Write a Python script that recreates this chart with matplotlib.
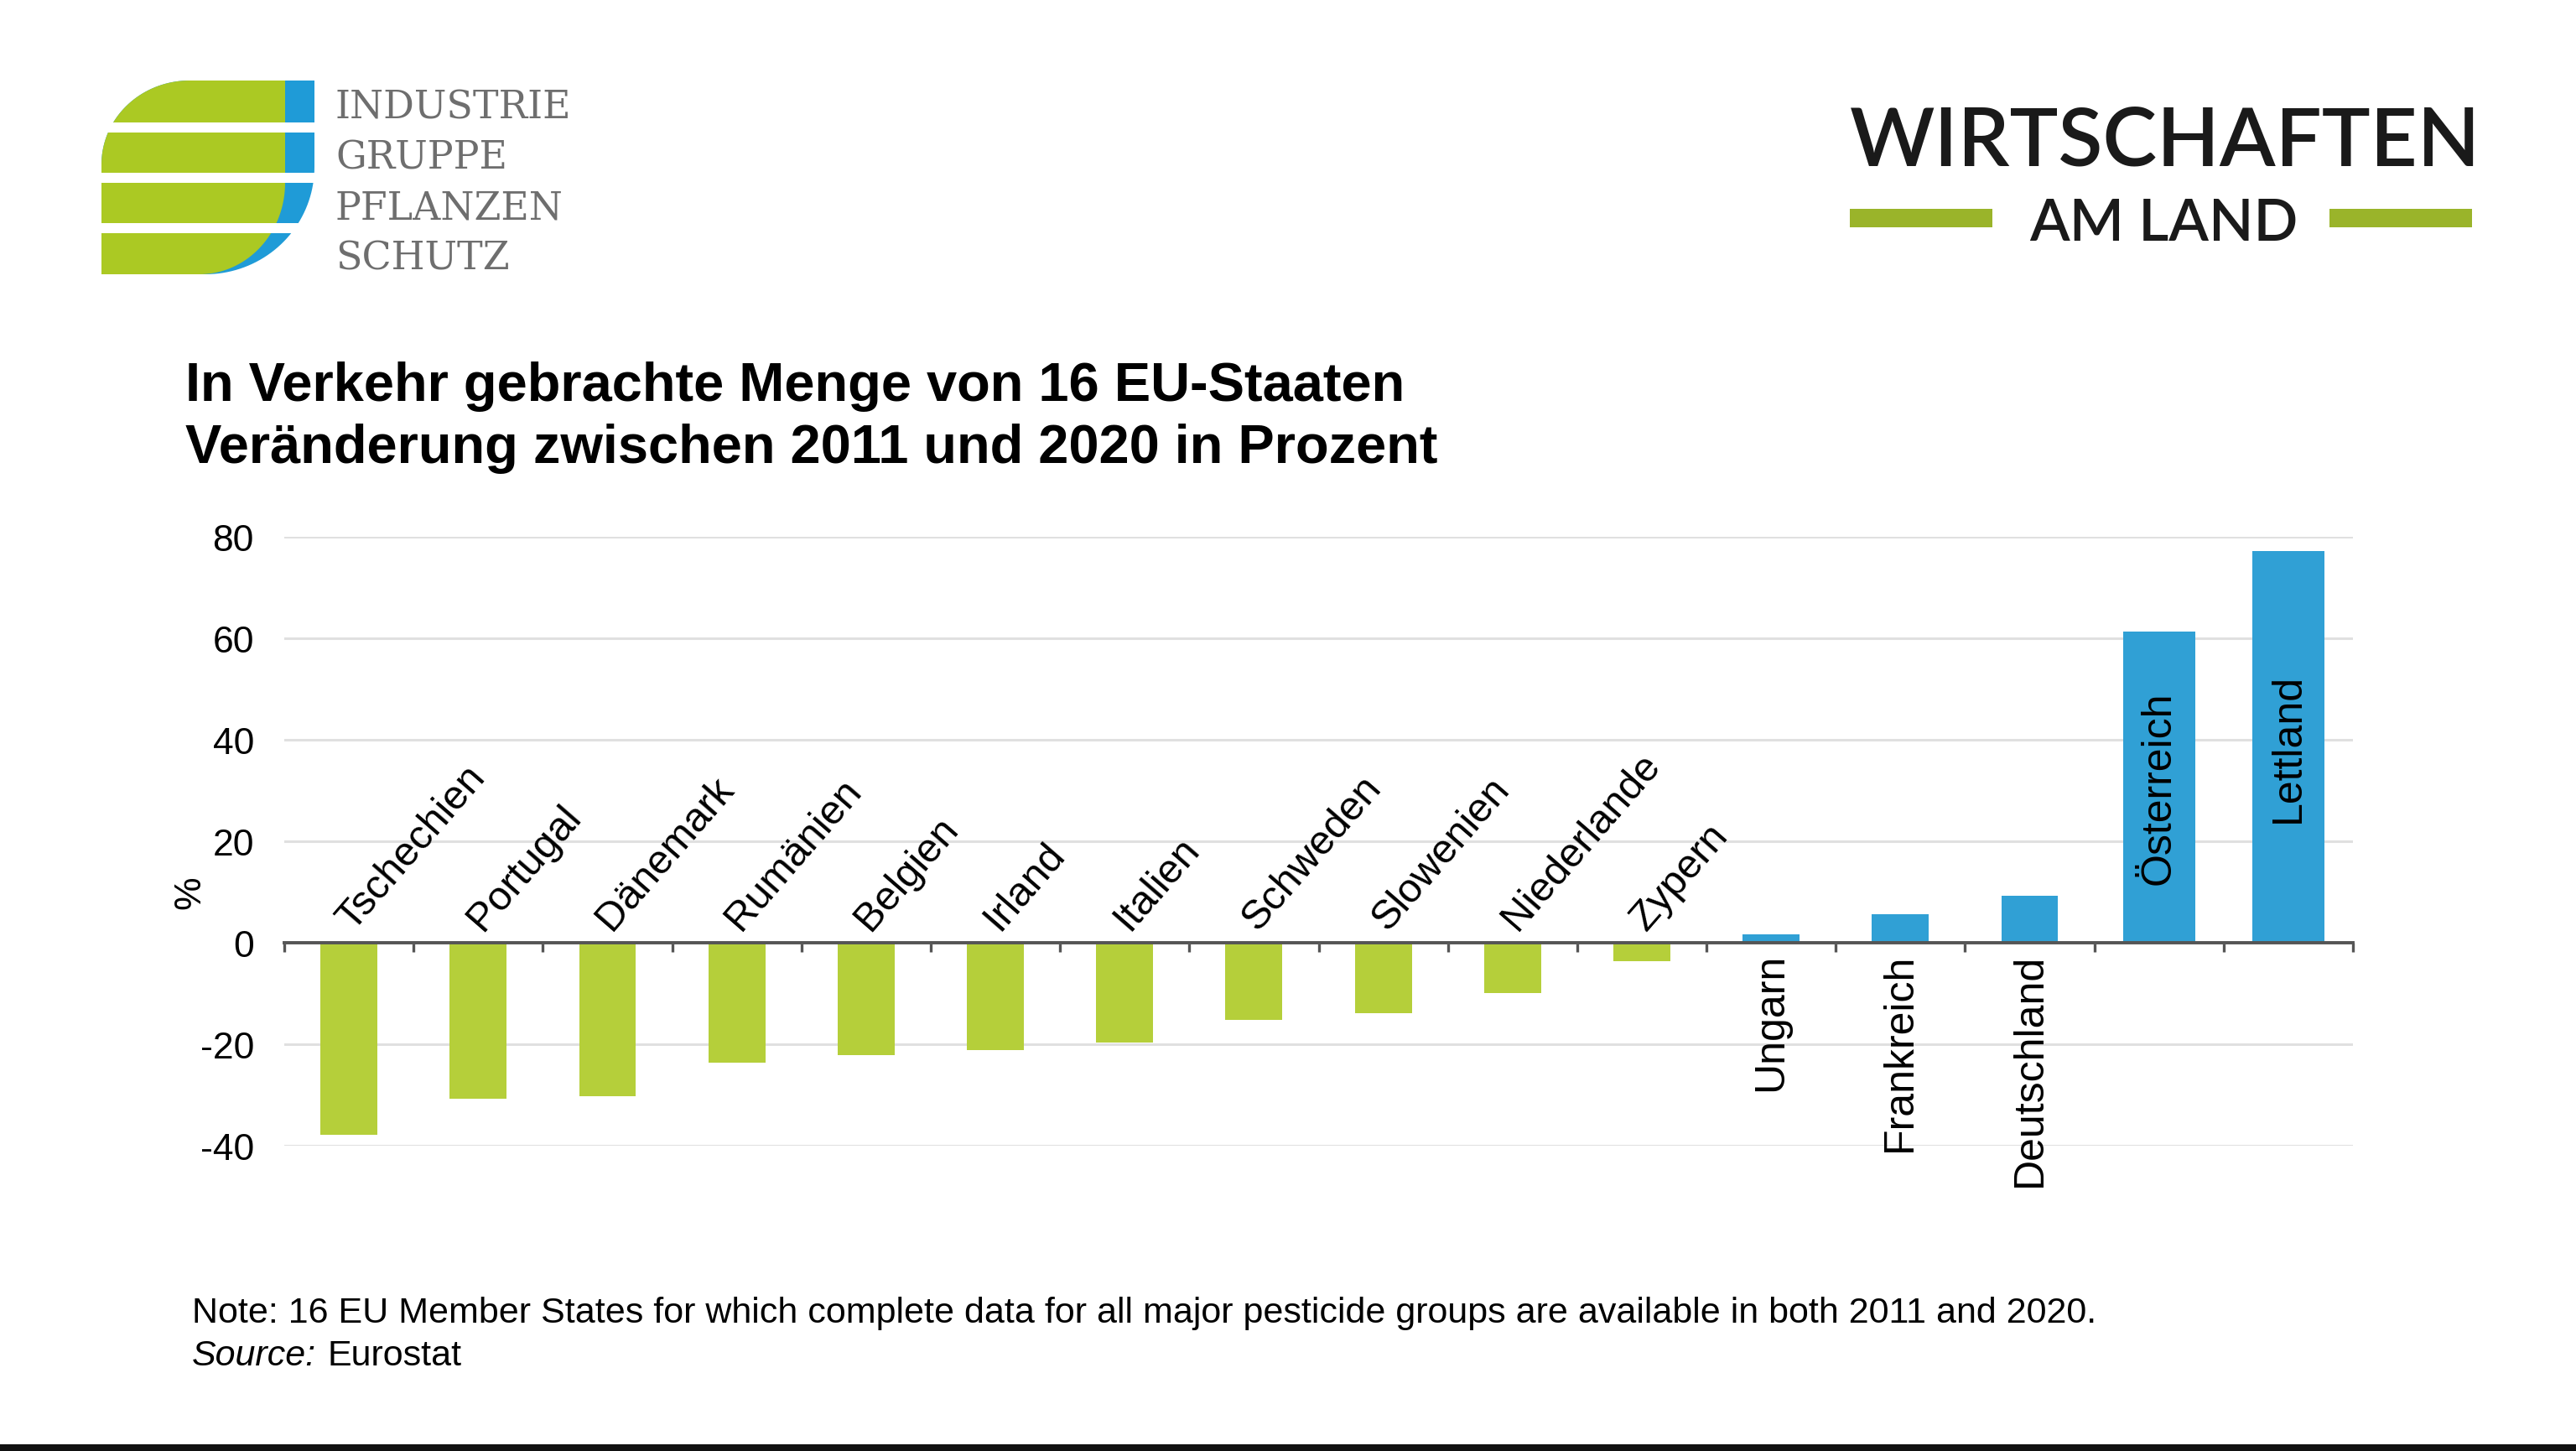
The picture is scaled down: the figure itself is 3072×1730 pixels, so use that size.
import numpy as np
import matplotlib
matplotlib.use("Agg")
import matplotlib.pyplot as plt
from matplotlib.patches import Polygon, Rectangle

plt.rcParams['font.family'] = ['Liberation Sans', 'DejaVu Sans']
plt.rcParams['axes.unicode_minus'] = False

# data: change 2011 -> 2020 in percent
countries = ['Tschechien', 'Portugal', 'Dänemark', 'Rumänien', 'Belgien', 'Irland',
             'Italien', 'Schweden', 'Slowenien', 'Niederlande', 'Zypern',
             'Ungarn', 'Frankreich', 'Deutschland', 'Österreich', 'Lettland']
change = [-37.8, -30.8, -30.2, -23.6, -22.1, -21.2, -19.7, -15.2, -13.9, -9.9, -3.6,
          1.7, 5.6, 9.3, 61.4, 77.2]
yticks = [-40, -20, 0, 20, 40, 60, 80]

GREEN = '#b5cf3a'
BLUE = '#30a0d5'
W, H = 3072, 1731

fig = plt.figure(figsize=(W / 200, H / 200), dpi=200)

# background layer in pixel coordinates (logos, titles, notes)
bg = fig.add_axes([0, 0, 1, 1])
bg.set_xlim(0, W)
bg.set_ylim(H, 0)
bg.axis('off')


def arc(cx, cy, rx, ry, a0, a1, n=40):
    t = np.radians(np.linspace(a0, a1, n))
    return np.column_stack([cx + rx * np.cos(t), cy + ry * np.sin(t)])


# left logo (y grows downward here)
tl = arc(121 + 105, 97 + 100, 105, 100, 180, 270)
outer = np.vstack([tl, [[375, 97], [375, 200]], arc(245, 200, 130, 128, 0, 90), [[121, 328]]])
inner = np.vstack([tl, [[340, 97], [340, 219]], arc(238, 219, 102, 109, 0, 90), [[121, 328]]])
bg.add_patch(Polygon(outer, closed=True, color='#1f9bd7', lw=0))
bg.add_patch(Polygon(inner, closed=True, color='#abc923', lw=0))
for y0 in (147, 207, 267):
    bg.add_patch(Rectangle((110, y0), 280, 12, color='white', lw=0))
for k, word in enumerate(['INDUSTRIE', 'GRUPPE', 'PFLANZEN', 'SCHUTZ']):
    bg.text(400, 142 + 60 * k, word, family='DejaVu Serif', fontsize=16.5,
            color='#6e6e6e', va='baseline', ha='left')

# right logo
bg.text(2206, 198, 'WIRTSCHAFTEN', family='Lato', fontsize=35, weight='semibold',
        color='#1a1a1a', va='baseline', ha='left')
bg.text(2580, 287, 'AM LAND', family='Lato', fontsize=25, weight='semibold',
        color='#1a1a1a', va='baseline', ha='center')
bg.add_patch(Rectangle((2206, 250), 170, 22, color='#9ab42a', lw=0))
bg.add_patch(Rectangle((2778, 250), 170, 22, color='#9ab42a', lw=0))

# titles
bg.text(221, 478, 'In Verkehr gebrachte Menge von 16 EU-Staaten', fontsize=23.4,
        weight='bold', va='baseline', ha='left')
bg.text(221, 552, 'Veränderung zwischen 2011 und 2020 in Prozent', fontsize=23.4,
        weight='bold', va='baseline', ha='left')

# notes
bg.text(229, 1577, 'Note: 16 EU Member States for which complete data for all major '
        'pesticide groups are available in both 2011 and 2020.', fontsize=15.5,
        va='baseline', ha='left')
bg.text(229, 1628, 'Source:', fontsize=15.5, style='italic', va='baseline', ha='left')
bg.text(390, 1628, 'Eurostat', fontsize=15.5, va='baseline', ha='left')

bg.text(227, 1064, '%', fontsize=16, rotation=90, ha='center', va='center')
bg.add_patch(Rectangle((0, 1723), W, 8, color='#111111', lw=0))

# chart
ax = fig.add_axes([339 / W, 1 - 1367 / H, (2806 - 339) / W, (1367 - 641) / H])
ax.set_facecolor('none')
x = np.arange(len(countries))
colors = [GREEN if v < 0 else BLUE for v in change]
widths = [0.56 if v > 50 else 0.44 for v in change]
ax.bar(x, change, width=widths, color=colors, zorder=3)

ax.set_xlim(-0.5, len(countries) - 0.5)
ax.set_ylim(-40, 80)
ax.set_yticks(yticks)
ax.yaxis.grid(True, color='#e0e0e0', lw=1.1, zorder=0)
ax.tick_params(axis='y', length=0, labelsize=16, pad=13)
ax.spines[['left', 'right', 'top']].set_visible(False)
ax.spines['bottom'].set_position(('data', 0))
ax.spines['bottom'].set_color('#555555')
ax.spines['bottom'].set_linewidth(1.4)
ax.spines['bottom'].set_zorder(4)
ax.set_xticks(np.arange(-0.5, len(countries), 1.0))
ax.tick_params(axis='x', direction='out', length=4, width=1.2, color='#555555',
               labelbottom=False)

for i, (name, v) in enumerate(zip(countries, change)):
    if v < 0:
        ax.text(i + 0.08, 1.2, name, rotation=49, rotation_mode='anchor',
                ha='left', va='bottom', fontsize=17.5, zorder=5)
    elif v < 50:
        ax.text(i, -2.0, name, rotation=90, ha='center', va='top', fontsize=18,
                zorder=5)
    else:
        ax.text(i, v / 2, name, rotation=90, ha='center', va='center', fontsize=18,
                zorder=5)

fig.savefig('out.png', dpi=200)
